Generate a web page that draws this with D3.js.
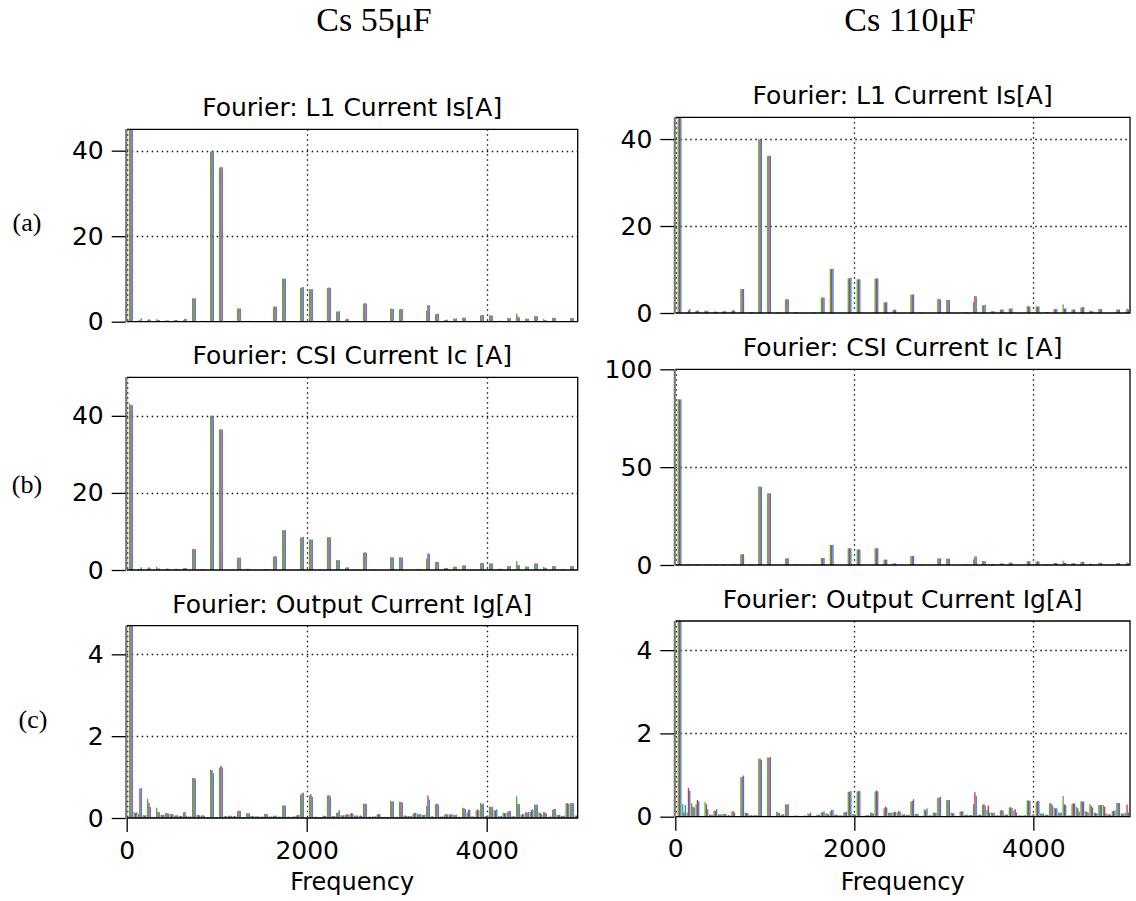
<!DOCTYPE html>
<html>
<head>
<meta charset="utf-8">
<script src="https://cdn.jsdelivr.net/npm/d3@7"></script>
<style>
  body { margin: 0; background: #fff; }
  svg { display: block; }
</style>
</head>
<body>
<svg id="chart" width="1136" height="901"></svg>
<script>
// Harmonic frequencies (Hz): odd harmonics of 50 Hz, and all harmonics of 50 Hz
const freqOdd = [50,150,250,350,450,550,650,750,850,950,1050,1150,1250,1350,1450,1550,1650,1750,1850,1950,
  2050,2150,2250,2350,2450,2550,2650,2750,2850,2950,3050,3150,3250,3350,3450,3550,3650,3750,3850,3950,
  4050,4150,4250,4350,4450,4550,4650,4750,4850,4950,5050];
const freqAll = [50,100,150,200,250,300,350,400,450,500,550,600,650,700,750,800,850,900,950,1000,
  1050,1100,1150,1200,1250,1300,1350,1400,1450,1500,1550,1600,1650,1700,1750,1800,1850,1900,1950,2000,
  2050,2100,2150,2200,2250,2300,2350,2400,2450,2500,2550,2600,2650,2700,2750,2800,2850,2900,2950,3000,
  3050,3100,3150,3200,3250,3300,3350,3400,3450,3500,3550,3600,3650,3700,3750,3800,3850,3900,3950,4000,
  4050,4100,4150,4200,4250,4300,4350,4400,4450,4500,4550,4600,4650,4700,4750,4800,4850,4900,4950,5000,5050];

// L1 current Is [A], Cs = 55 uF (phases drawn green / red / blue)
const isG55 = [48,0.3,0.4,0.6,0.3,0.4,0.4,5.5,0.2,39.8,36.0,0.1,3.1,0.2,0,0.1,3.4,10.1,0,7.9,7.6,0,7.9,2.4,0.5,0,4.2,0.1,0,3.1,2.9,0,0.1,2.6,1.8,0.4,0.7,0.9,0,1.5,1.5,0.2,0.8,1.9,0.7,1.3,0.6,0.9,0,0.8,0];
const isR55 = [48,0.3,0.6,0.4,0.3,0.4,0.7,5.4,0.2,39.7,36.2,0.1,3.1,0.2,0,0.1,3.6,10.0,0,8.0,7.6,0,8.0,2.3,0.7,0,4.4,0.1,0,3.0,3.0,0,0.1,3.9,1.8,0.4,0.7,1.0,0,1.5,1.5,0.2,0.9,1.2,0.7,1.3,0.4,0.9,0,0.9,0];
const isB55 = [48,0.8,0.4,0.4,0.3,0.4,0.6,5.5,0.2,39.9,36.1,0.1,3.1,0.2,0,0.1,3.5,10.1,0,8.1,7.6,0,7.9,2.5,0.6,0,4.2,0.1,0,3.0,2.9,0,0.1,3.8,1.9,0.5,0.8,0.9,0,1.6,1.4,0.2,0.8,1.0,0.7,1.3,0.3,0.9,0,0.8,0];

// L1 current Is [A], Cs = 110 uF
const isG110 = [48,0.2,0.5,0.6,0.3,0.4,0.5,5.5,0.2,40.0,36.1,0.1,3.1,0.2,0,0.1,3.5,10.2,0,8.0,7.7,0,7.9,2.5,0.6,0,4.2,0.1,0,3.2,3.0,0,0.1,2.6,1.8,0.4,0.8,1.0,0,1.5,1.5,0.2,0.9,2.0,0.8,1.3,0.6,0.9,0,0.8,0.3];
const isR110 = [48,0.6,0.6,0.4,0.3,0.4,0.7,5.5,0.2,39.8,36.2,0.1,3.2,0.2,0,0.1,3.6,10.1,0,8.0,7.8,0,8.0,2.4,0.8,0,4.2,0.1,0,3.2,3.0,0,0.1,3.9,1.8,0.4,0.8,1.0,0,1.6,1.5,0.2,0.9,1.0,0.8,1.3,0.4,0.9,0,0.8,1.0];
const isB110 = [48,0.9,0.4,0.5,0.3,0.4,0.5,5.5,0.2,39.8,36.1,0.1,3.1,0.2,0,0.1,3.5,10.2,0,8.1,7.7,0,7.9,2.5,0.7,0,4.3,0.1,0,3.1,3.0,0,0.1,3.8,1.9,0.4,0.8,1.1,0,1.4,1.5,0.2,0.9,1.1,0.8,1.4,0.4,0.9,0,0.8,0.8];

// CSI current Ic [A], Cs = 55 uF
const icG55 = [43.2,0.2,0.4,0.8,0.2,0.3,0.5,5.4,0.2,40.0,36.5,0,3.2,0.3,0,0.2,3.5,10.3,0,8.4,7.9,0,8.5,2.6,0.6,0.1,4.5,0.1,0,3.3,3.3,0,0.2,2.9,2.1,0.5,0.8,1.2,0.1,1.8,1.7,0.3,1.0,2.3,0.9,1.7,0.8,1.0,0.2,1.0,0];
const icR55 = [42.8,0.2,0.7,0.4,0.4,0.3,0.5,5.5,0.2,40.0,36.5,0,3.2,0.3,0,0.2,3.6,10.3,0,8.5,7.9,0,8.5,2.5,0.7,0.1,4.6,0.1,0,3.3,3.3,0,0.2,4.3,2.1,0.5,0.9,1.2,0.1,1.8,1.7,0.3,1.0,1.3,0.9,1.7,0.6,1.0,0.2,1.0,0];
const icB55 = [42.8,0.7,0.4,0.4,0.3,0.3,0.5,5.4,0.2,40.0,36.4,0,3.2,0.3,0,0.2,3.5,10.4,0,8.6,7.9,0,8.5,2.6,0.7,0.1,4.5,0.1,0,3.3,3.2,0,0.2,4.2,2.1,0.5,0.8,1.2,0.1,1.8,1.7,0.3,1.0,1.2,0.9,1.7,0.5,1.0,0.2,1.0,0];

// CSI current Ic [A], Cs = 110 uF
const icG110 = [84.8,0.3,0.4,0.3,0.3,0.3,0.4,5.5,0.3,40.1,36.6,0,3.4,0.3,0,0.2,3.6,10.3,0,8.5,7.9,0,8.5,2.7,0.8,0,4.6,0.1,0,3.4,3.2,0,0.2,2.9,2.0,0.5,0.8,1.2,0,1.9,1.8,0.3,1.0,2.2,0.9,1.6,0.8,1.1,0,1.0,0.3];
const icR110 = [84.6,0.3,0.4,0.3,0.3,0.3,0.4,5.5,0.3,40.0,36.7,0,3.5,0.3,0,0.2,3.6,10.2,0,8.6,8.0,0,8.6,2.8,0.8,0,4.6,0.1,0,3.4,3.2,0,0.2,4.4,2.0,0.5,0.8,1.2,0,1.9,1.8,0.3,1.0,1.2,0.9,1.6,0.5,1.1,0,1.0,1.3];
const icB110 = [84.6,0.3,0.4,0.3,0.3,0.3,0.4,5.5,0.3,39.9,36.6,0,3.4,0.3,0,0.2,3.6,10.3,0,8.6,7.9,0,8.5,2.7,0.8,0,4.6,0.1,0,3.4,3.2,0,0.2,4.3,2.0,0.5,0.8,1.2,0,1.9,1.8,0.3,1.0,1.0,0.9,1.6,0.5,1.1,0,1.0,1.0];

// Output current Ig [A], Cs = 55 uF (all harmonics)
const igG55 = [4.9,0.15,0.10,0.07,0.47,0.03,0.25,0.08,0.12,0.10,
  0.06,0.05,0.14,0.04,0.98,0.07,0.06,0.02,1.18,0.02,
  1.23,0.04,0.05,0.04,0.17,0.02,0.12,0.05,0.04,0.03,
  0.10,0.04,0.06,0.03,0.31,0.03,0.03,0.06,0.57,0.00,
  0.56,0.03,0.02,0.06,0.55,0.05,0.12,0.07,0.08,0.10,
  0.06,0.05,0.35,0.03,0.04,0.08,0.03,0.02,0.42,0.03,
  0.40,0.06,0.05,0.11,0.10,0.08,0.30,0.04,0.34,0.04,
  0.08,0.09,0.08,0.03,0.25,0.13,0.04,0.18,0.37,0.05,
  0.28,0.20,0.04,0.13,0.15,0.04,0.53,0.08,0.15,0.15,
  0.33,0.14,0.15,0.03,0.20,0.08,0.05,0.36,0.36,0.06,0];
const igR55 = [4.9,0.12,0.72,0.06,0.37,0.02,0.15,0.07,0.12,0.09,
  0.06,0.05,0.15,0.03,0.98,0.08,0.07,0.02,1.17,0.02,
  1.28,0.05,0.06,0.05,0.18,0.02,0.11,0.05,0.04,0.03,
  0.10,0.03,0.05,0.03,0.30,0.03,0.03,0.07,0.60,0.00,
  0.58,0.03,0.02,0.05,0.56,0.04,0.14,0.06,0.10,0.12,
  0.06,0.06,0.35,0.03,0.03,0.10,0.02,0.03,0.40,0.02,
  0.39,0.06,0.04,0.12,0.09,0.07,0.55,0.04,0.35,0.03,
  0.10,0.08,0.07,0.03,0.24,0.20,0.04,0.21,0.34,0.05,
  0.27,0.18,0.04,0.12,0.17,0.04,0.34,0.10,0.13,0.19,
  0.32,0.12,0.14,0.03,0.22,0.07,0.05,0.36,0.37,0.06,0];
const igB55 = [4.9,0.14,0.73,0.07,0.27,0.03,0.14,0.08,0.11,0.10,
  0.07,0.05,0.06,0.04,0.96,0.06,0.05,0.02,1.10,0.02,
  1.24,0.04,0.05,0.04,0.17,0.02,0.12,0.04,0.04,0.04,
  0.09,0.04,0.06,0.03,0.31,0.03,0.04,0.08,0.62,0.00,
  0.52,0.03,0.02,0.05,0.53,0.05,0.19,0.07,0.08,0.11,
  0.06,0.05,0.34,0.03,0.04,0.09,0.03,0.02,0.41,0.03,
  0.38,0.05,0.05,0.13,0.10,0.08,0.45,0.03,0.33,0.04,
  0.09,0.10,0.08,0.02,0.22,0.20,0.03,0.19,0.35,0.06,
  0.27,0.21,0.05,0.12,0.17,0.04,0.34,0.09,0.15,0.21,
  0.33,0.09,0.11,0.04,0.22,0.08,0.06,0.35,0.36,0.07,0];

// Output current Ig [A], Cs = 110 uF (all harmonics)
const igG110 = [4.9,0.30,0.10,0.32,0.30,0.02,0.35,0.05,0.15,0.06,
  0.07,0.03,0.13,0.01,0.95,0.10,0.03,0.04,1.39,0.02,
  1.42,0.02,0.12,0.05,0.30,0.02,0.03,0.02,0.02,0.08,
  0.02,0.05,0.10,0.08,0.13,0.05,0.03,0.10,0.60,0.07,
  0.60,0.02,0.04,0.10,0.60,0.02,0.20,0.10,0.10,0.10,
  0.06,0.04,0.36,0.07,0.02,0.18,0.03,0.10,0.45,0.01,
  0.40,0.10,0.02,0.12,0.05,0.04,0.30,0.05,0.28,0.16,
  0.10,0.03,0.15,0.05,0.22,0.15,0.03,0.03,0.39,0.03,
  0.36,0.08,0.05,0.32,0.22,0.10,0.50,0.03,0.30,0.24,
  0.37,0.13,0.30,0.10,0.28,0.28,0.06,0.13,0.33,0.08,0.10];
const igR110 = [4.9,0.10,0.69,0.24,0.40,0.02,0.30,0.05,0.14,0.05,
  0.06,0.04,0.13,0.01,0.96,0.09,0.04,0.03,1.40,0.02,
  1.42,0.02,0.10,0.05,0.29,0.02,0.02,0.02,0.03,0.06,
  0.02,0.04,0.11,0.07,0.16,0.05,0.03,0.11,0.60,0.06,
  0.62,0.02,0.03,0.09,0.63,0.02,0.24,0.09,0.12,0.14,
  0.05,0.04,0.38,0.06,0.02,0.15,0.03,0.09,0.46,0.01,
  0.40,0.09,0.02,0.13,0.04,0.04,0.59,0.04,0.30,0.27,
  0.09,0.03,0.16,0.05,0.23,0.18,0.03,0.03,0.39,0.06,
  0.38,0.07,0.04,0.32,0.20,0.09,0.30,0.03,0.32,0.20,
  0.37,0.12,0.26,0.09,0.28,0.24,0.06,0.14,0.33,0.07,0.29];
const igB110 = [4.9,0.28,0.62,0.22,0.37,0.02,0.18,0.04,0.18,0.06,
  0.07,0.03,0.10,0.01,0.99,0.08,0.03,0.04,1.36,0.02,
  1.43,0.02,0.09,0.06,0.30,0.02,0.03,0.02,0.02,0.10,
  0.02,0.05,0.13,0.06,0.16,0.04,0.03,0.12,0.62,0.05,
  0.61,0.02,0.04,0.08,0.61,0.02,0.22,0.10,0.11,0.12,
  0.06,0.05,0.42,0.07,0.02,0.20,0.03,0.10,0.48,0.01,
  0.40,0.08,0.02,0.13,0.05,0.04,0.50,0.05,0.27,0.10,
  0.10,0.03,0.14,0.05,0.21,0.10,0.03,0.04,0.38,0.03,
  0.38,0.08,0.05,0.28,0.20,0.10,0.28,0.03,0.32,0.12,
  0.36,0.10,0.22,0.08,0.28,0.08,0.05,0.15,0.33,0.08,0.10];

// Text
const columnHeaders = ["Cs 55\u03bcF", "Cs 110\u03bcF"];
const rowLabels = ["(a)", "(b)", "(c)"];
const panelTitles = ["Fourier: L1 Current Is[A]", "Fourier: CSI Current Ic [A]", "Fourier: Output Current Ig[A]"];
const xTickValues = [0, 2000, 4000];
const xAxisTitle = "Frequency";
const phaseColors = ["#2cc42c", "#ea2a40", "#2a7fec"];

// Layout of the six panels
const columns = [
  { x0: 126.7, x1: 577.7, fMax: 5011, header: 0, headerX: 374 },
  { x0: 675.3, x1: 1130, fMax: 5080, header: 1, headerX: 910 }
];
const panels = [
  { col: 0, row: 0, top: 129.3, bottom: 321.7, yMax: 45,  yTicks: [0, 20, 40],  freqs: freqOdd, series: [isG55, isR55, isB55] },
  { col: 1, row: 0, top: 117.3, bottom: 313.0, yMax: 45,  yTicks: [0, 20, 40],  freqs: freqOdd, series: [isG110, isR110, isB110] },
  { col: 0, row: 1, top: 377.3, bottom: 570.0, yMax: 50,  yTicks: [0, 20, 40],  freqs: freqOdd, series: [icG55, icR55, icB55] },
  { col: 1, row: 1, top: 369.3, bottom: 565.0, yMax: 100, yTicks: [0, 50, 100], freqs: freqOdd, series: [icG110, icR110, icB110] },
  { col: 0, row: 2, top: 625.7, bottom: 818.0, yMax: 4.7, yTicks: [0, 2, 4],    freqs: freqAll, series: [igG55, igR55, igB55] },
  { col: 1, row: 2, top: 621.0, bottom: 816.7, yMax: 4.7, yTicks: [0, 2, 4],    freqs: freqAll, series: [igG110, igR110, igB110] }
];
const rowLabelPos = [{ x: 27, y: 231 }, { x: 27, y: 493 }, { x: 33, y: 728 }];

const SANS = "'DejaVu Sans', Verdana, sans-serif";
const SERIF = "'Liberation Serif', 'Times New Roman', serif";

const svg = d3.select("#chart");
svg.append("rect").attr("width", 1136).attr("height", 901).attr("fill", "#fff");

// Column headers
columns.forEach(c => {
  svg.append("text")
    .attr("x", c.headerX).attr("y", 31)
    .attr("text-anchor", "middle")
    .attr("font-family", SERIF).attr("font-size", 34)
    .text(columnHeaders[c.header]);
});

// Row labels
rowLabels.forEach((t, i) => {
  svg.append("text")
    .attr("x", rowLabelPos[i].x).attr("y", rowLabelPos[i].y)
    .attr("text-anchor", "middle")
    .attr("font-family", SERIF).attr("font-size", 26)
    .text(t);
});

const barW = 1.3;

panels.forEach((p, pi) => {
  const c = columns[p.col];
  const x = d3.scaleLinear().domain([0, c.fMax]).range([c.x0, c.x1]);
  const y = d3.scaleLinear().domain([0, p.yMax]).range([p.bottom, p.top]);
  const g = svg.append("g");

  const clipId = "clip" + pi;
  g.append("clipPath").attr("id", clipId)
    .append("rect")
    .attr("x", c.x0).attr("y", p.top)
    .attr("width", c.x1 - c.x0).attr("height", p.bottom - p.top);

  // Title
  g.append("text")
    .attr("x", (c.x0 + c.x1) / 2).attr("y", p.top - 13)
    .attr("text-anchor", "middle")
    .attr("font-family", SANS).attr("font-size", 25)
    .attr("fill", "#000")
    .text(panelTitles[p.row]);

  // Dotted grid
  const grid = g.append("g").attr("stroke", "#111").attr("stroke-width", 1.3)
    .attr("stroke-dasharray", "1.5,3.5");
  p.yTicks.filter(v => v > 0 && v < p.yMax).forEach(v => {
    grid.append("line")
      .attr("x1", c.x0).attr("x2", c.x1)
      .attr("y1", Math.round(y(v)) + 0.5).attr("y2", Math.round(y(v)) + 0.5);
  });
  xTickValues.forEach(v => {
    const xv = v === 0 ? c.x0 + 1 : Math.round(x(v)) + 0.5;
    grid.append("line")
      .attr("x1", xv).attr("x2", xv)
      .attr("y1", p.top).attr("y2", p.bottom);
  });

  // Harmonic bars: three phases side by side at each frequency
  const bars = g.append("g").attr("clip-path", `url(#${clipId})`);
  p.series.forEach((vals, k) => {
    bars.append("g").attr("fill", phaseColors[k])
      .selectAll("rect")
      .data(p.freqs.map((f, i) => ({ f, v: vals[i] })).filter(d => d.v > 0))
      .join("rect")
      .attr("x", d => x(d.f) - 2.2 + k * barW)
      .attr("width", barW)
      .attr("y", d => y(d.v))
      .attr("height", d => p.bottom - y(d.v));
  });

  // Frame
  g.append("path")
    .attr("d", `M${c.x0},${p.top}H${c.x1}V${p.bottom}H${c.x0}`)
    .attr("fill", "none").attr("stroke", "#000").attr("stroke-width", 1.3);
  g.append("line")
    .attr("x1", c.x0 - 0.5).attr("x2", c.x0 - 0.5)
    .attr("y1", p.top).attr("y2", p.bottom)
    .attr("stroke", "#7a7a7a").attr("stroke-width", 2.2);

  // Y axis
  const yAxis = g.append("g")
    .attr("transform", `translate(${c.x0 - 1},0)`)
    .call(d3.axisLeft(y).tickValues(p.yTicks).tickSize(14).tickPadding(8).tickFormat(d3.format("d")));
  yAxis.select(".domain").remove();
  yAxis.selectAll(".tick line").attr("stroke", "#000").attr("stroke-width", 1.3);
  yAxis.selectAll(".tick text")
    .attr("font-family", SANS).attr("font-size", 25).attr("fill", "#000");

  // X axis with labels on the bottom row
  if (p.row === 2) {
    const xAxis = g.append("g")
      .attr("transform", `translate(0,${p.bottom})`)
      .call(d3.axisBottom(x).tickValues(xTickValues).tickSize(14).tickPadding(9).tickFormat(d3.format("d")));
    xAxis.select(".domain").remove();
    xAxis.selectAll(".tick line").attr("stroke", "#000").attr("stroke-width", 1.3);
    xAxis.selectAll(".tick text")
      .attr("font-family", SANS).attr("font-size", 25).attr("fill", "#000");
    g.append("text")
      .attr("x", (c.x0 + c.x1) / 2).attr("y", 890)
      .attr("text-anchor", "middle")
      .attr("font-family", SANS).attr("font-size", 24)
      .text(xAxisTitle);
  }
});
</script>
</body>
</html>
